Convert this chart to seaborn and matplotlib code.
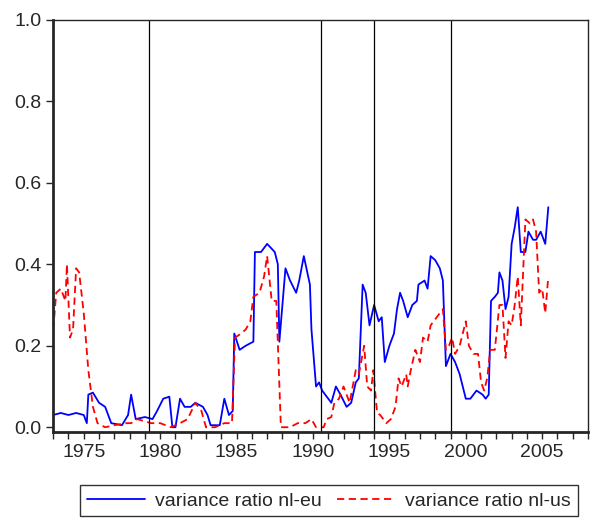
import matplotlib
matplotlib.use("Agg")
import matplotlib.pyplot as plt
from matplotlib.ticker import MultipleLocator
import seaborn as sns
import pandas as pd

# variance ratio nl-eu (year, value)
eu_year = [1973.0, 1973.5, 1974.0, 1974.5, 1975.0, 1975.2, 1975.3, 1975.6, 1976.0, 1976.4,
           1976.8, 1977.5, 1977.9, 1978.1, 1978.4, 1979.0, 1979.5, 1979.8, 1980.2, 1980.6,
           1980.8, 1981.0, 1981.3, 1981.6, 1982.0, 1982.3, 1982.8, 1983.1, 1983.3, 1983.9,
           1984.2, 1984.5, 1984.75, 1984.85, 1985.2, 1985.6, 1986.1, 1986.2, 1986.6, 1987.0,
           1987.5, 1987.7, 1987.8, 1988.0, 1988.2, 1988.5, 1988.9, 1989.1, 1989.4, 1989.8,
           1989.9, 1990.2, 1990.4, 1990.6, 1991.2, 1991.5, 1991.8, 1992.2, 1992.5, 1992.8,
           1993.0, 1993.25, 1993.45, 1993.7, 1994.0, 1994.3, 1994.5, 1994.7, 1995.0, 1995.3,
           1995.5, 1995.7, 1995.9, 1996.2, 1996.5, 1996.8, 1996.9, 1997.3, 1997.5, 1997.7,
           1998.0, 1998.3, 1998.5, 1998.7, 1999.0, 1999.3, 1999.6, 2000.0, 2000.3, 2000.7,
           2001.1, 2001.3, 2001.5, 2001.65, 2001.9, 2002.1, 2002.2, 2002.4, 2002.6, 2002.8,
           2003.0, 2003.2, 2003.4, 2003.6, 2003.9, 2004.1, 2004.4, 2004.6, 2004.9, 2005.2,
           2005.4]
eu_val = [0.03, 0.035, 0.03, 0.035, 0.03, 0.01, 0.08, 0.085, 0.06, 0.05,
          0.01, 0.005, 0.03, 0.08, 0.02, 0.025, 0.02, 0.04, 0.07, 0.075,
          0.0, 0.0, 0.07, 0.05, 0.05, 0.06, 0.05, 0.03, 0.005, 0.005,
          0.07, 0.03, 0.04, 0.23, 0.19, 0.2, 0.21, 0.43, 0.43, 0.45,
          0.43, 0.4, 0.21, 0.3, 0.39, 0.36, 0.33, 0.36, 0.42, 0.35,
          0.24, 0.1, 0.11, 0.09, 0.06, 0.1, 0.08, 0.05, 0.06, 0.11,
          0.12, 0.35, 0.33, 0.25, 0.3, 0.26, 0.27, 0.16, 0.2, 0.23,
          0.29, 0.33, 0.31, 0.27, 0.3, 0.31, 0.35, 0.36, 0.34, 0.42,
          0.41, 0.39, 0.36, 0.15, 0.18, 0.16, 0.13, 0.07, 0.07, 0.09,
          0.08, 0.07, 0.08, 0.31, 0.32, 0.33, 0.38, 0.36, 0.29, 0.32,
          0.45, 0.49, 0.54, 0.43, 0.43, 0.48, 0.46, 0.46, 0.48, 0.45,
          0.54]

# variance ratio nl-us
us_year = [1973.0, 1973.2, 1973.5, 1973.8, 1973.9, 1974.1, 1974.3, 1974.5, 1974.7, 1975.0,
           1975.3, 1975.6, 1975.9, 1976.4, 1977.0, 1977.8, 1978.1, 1978.5, 1979.4, 1980.0,
           1980.7, 1981.3, 1981.8, 1982.3, 1982.7, 1983.0, 1983.6, 1984.2, 1984.7, 1984.9,
           1985.3, 1985.6, 1985.9, 1986.1, 1986.5, 1986.8, 1987.0, 1987.3, 1987.6, 1987.9,
           1988.5, 1989.0, 1989.5, 1989.9, 1990.2, 1990.7, 1990.9, 1991.2, 1991.4, 1991.7,
           1992.0, 1992.4, 1992.7, 1992.8, 1993.0, 1993.35, 1993.55, 1993.8, 1993.95, 1994.1,
           1994.2, 1994.4, 1994.8, 1995.1, 1995.4, 1995.6, 1995.8, 1996.1, 1996.2, 1996.4,
           1996.7, 1997.0, 1997.2, 1997.5, 1997.7, 1997.9, 1998.3, 1998.5, 1998.7, 1998.9,
           1999.1, 1999.3, 1999.6, 2000.0, 2000.2, 2000.5, 2000.8, 2001.0, 2001.2, 2001.4,
           2001.6, 2001.9, 2002.2, 2002.4, 2002.6, 2002.8, 2003.0, 2003.2, 2003.4, 2003.6,
           2003.9, 2004.2, 2004.4, 2004.6, 2004.8, 2005.0, 2005.2, 2005.4]
us_val = [0.24, 0.33, 0.34, 0.31, 0.40, 0.22, 0.24, 0.39, 0.38, 0.28,
          0.14, 0.05, 0.01, 0.0, 0.005, 0.01, 0.01, 0.02, 0.01, 0.01,
          0.0, 0.01, 0.02, 0.06, 0.04, 0.0, 0.0, 0.01, 0.01, 0.22,
          0.23, 0.24, 0.26, 0.32, 0.33, 0.37, 0.42, 0.31, 0.31, 0.0,
          0.0, 0.01, 0.01, 0.02, 0.0, 0.0, 0.02, 0.025, 0.06, 0.07,
          0.1, 0.06, 0.12, 0.14, 0.13, 0.2, 0.1, 0.09, 0.14, 0.075,
          0.035, 0.03, 0.01, 0.02, 0.05, 0.12, 0.1, 0.13, 0.1, 0.14,
          0.19, 0.16, 0.22, 0.21, 0.25, 0.26, 0.28, 0.29, 0.19, 0.2,
          0.22, 0.18, 0.2, 0.26, 0.2, 0.18, 0.18, 0.11, 0.09, 0.12,
          0.19, 0.19, 0.3, 0.3, 0.17, 0.26, 0.25, 0.3, 0.37, 0.25,
          0.51, 0.5, 0.51, 0.48, 0.33, 0.34, 0.28, 0.37]

break_years = [1979.25, 1990.5, 1994.0, 1999.0]

sns.set_style("ticks")
plt.rcParams["font.family"] = ["Liberation Sans", "DejaVu Sans"]

fig = plt.figure(figsize=(5.91, 5.2), dpi=100)
ax = fig.add_axes([0.09, 0.169, 0.905, 0.793])

eu = pd.DataFrame({"year": eu_year, "value": eu_val})
us = pd.DataFrame({"year": us_year, "value": us_val})
sns.lineplot(data=eu, x="year", y="value", ax=ax, color="#0000ff", lw=1.3,
             label="variance ratio nl-eu")
sns.lineplot(data=us, x="year", y="value", ax=ax, color="#ff0000", lw=1.3,
             linestyle=(0, (4, 2.5)), label="variance ratio nl-us")
for b in break_years:
    ax.axvline(b, color="black", lw=0.9)

ax.set_xlim(1973, 2008)
ax.set_ylim(-0.012, 1.0)
ax.set_xticks([1975, 1980, 1985, 1990, 1995, 2000, 2005])
ax.xaxis.set_minor_locator(MultipleLocator(1))
ax.set_yticks([0.0, 0.2, 0.4, 0.6, 0.8, 1.0])
ax.set_yticklabels(["0.0", "0.2", "0.4", "0.6", "0.8", "1.0"])
ax.tick_params(axis="both", labelsize=14, direction="out", length=5, width=1)
ax.tick_params(axis="x", which="minor", direction="out", length=5, width=1)
ax.set_xlabel("")
ax.set_ylabel("")
for s in ax.spines.values():
    s.set_linewidth(1.0)
ax.spines["bottom"].set_linewidth(2)
ax.spines["left"].set_linewidth(2)

ax.legend(loc="upper center", bbox_to_anchor=(0.515, -0.105), ncol=2, fontsize=14,
          frameon=True, fancybox=False, edgecolor="black", handlelength=3.0,
          columnspacing=0.8, borderpad=0.35, handletextpad=0.5)

fig.savefig("out.png", dpi=100)
